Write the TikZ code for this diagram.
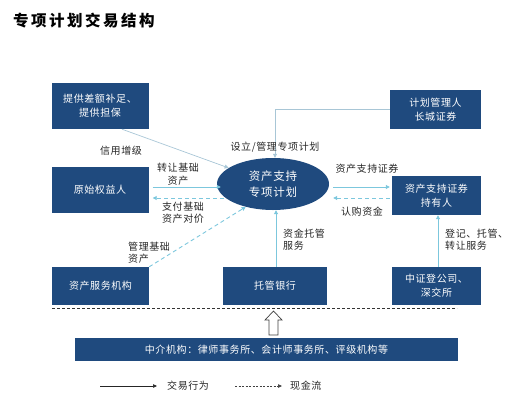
\documentclass[tikz,border=0pt]{standalone}
\usepackage{fontspec}
\setmainfont{Noto Sans CJK SC}[LetterSpace=6]
\newfontfamily\titlefont{Noto Sans CJK SC}[LetterSpace=16]
\usetikzlibrary{arrows.meta,calc,shapes.geometric}
\definecolor{boxblue}{HTML}{1F4A7E}
\definecolor{lnblue}{HTML}{7CC7DD}
\definecolor{lngray}{HTML}{A8C6D6}
\begin{document}
\begin{tikzpicture}[x=1pt,y=-1pt,
  box/.style={fill=boxblue,text=white,font=\fontsize{10}{14}\selectfont,align=center,inner sep=0pt},
  lbl/.style={font=\fontsize{10}{12.5}\selectfont,text=black!85,inner sep=0pt},
  trans/.style={draw=lnblue,line width=0.9pt,-{Triangle[length=4pt,width=4pt]}},
  cash/.style={draw=lnblue,line width=0.9pt,dash pattern=on 4pt off 3pt,-{Triangle[length=4pt,width=4pt]}},
  thinl/.style={draw=lngray,line width=0.7pt,-{Triangle[length=4pt,width=4pt]}},
]
\useasboundingbox (0,0) rectangle (519,400);
\node[anchor=west,font=\fontsize{15.5}{18}\titlefont\bfseries,inner sep=0pt] (title) at (13,21) {专项计划交易结构};

\node[box,minimum width=97pt,minimum height=46pt] (gua) at (100,106) {提供差额补足、\\提供担保};
\node[box,minimum width=97pt,minimum height=46pt] (ys) at (100,190) {原始权益人};
\node[box,minimum width=91pt,minimum height=39pt] (mgr) at (435.5,109.5) {计划管理人\\长城证券};
\node[box,minimum width=89pt,minimum height=39pt] (hold) at (436.5,195.5) {资产支持证券\\持有人};
\node[box,minimum width=97pt,minimum height=38pt] (serv) at (100.5,286) {资产服务机构};
\node[box,minimum width=104pt,minimum height=38pt] (bank) at (275,286) {托管银行};
\node[box,minimum width=89pt,minimum height=38pt] (csdc) at (436.5,286) {中证登公司、\\深交所};
\node[ellipse,fill=boxblue,text=white,minimum width=112pt,minimum height=52pt,inner sep=0pt,align=center,font=\fontsize{11.5}{16}\selectfont] (ell) at (273,184) {资产支持\\专项计划};
\node[box,minimum width=383pt,minimum height=23pt] (mid) at (266.5,349.5) {中介机构：律师事务所、会计师事务所、评级机构等};

% connectors
\draw[thinl] ($(gua.south)+(22,0)$) -- (ell);
\draw[trans] ($(ys.east)+(4,-3)$) -- ($(ell.west)+(4,3)$);
\draw[cash] ($(ell.west)+(7,14)$) -- ($(ys.east)+(4,8)$);
\draw[cash] (serv.north east) -- (ell.220);
\draw[thinl] (mgr.west) -| ($(ell.north)+(2,0)$);
\draw[trans] ($(ell.east)+(4,3)$) -- ($(hold.west)+(-2,-8.5)$);
\draw[cash] ($(hold.west)+(-2,2.5)$) -- ($(ell.east)+(4,14)$);
\draw[trans] ($(bank.north)+(1,0)$) -- ($(ell.south)+(3,0)$);
\draw[trans] ($(csdc.north)+(1.5,0)$) -- ($(hold.south)+(1.5,0)$);

% labels
\node[lbl] (l1) at (121,151) {信用增级};
\node[lbl,align=center] (l2) at (178,174) {转让基础\\资产};
\node[lbl,align=center] (l3) at (183,212.5) {支付基础\\资产对价};
\node[lbl,align=left,anchor=west] (l4) at (128,252.5) {管理基础\\资产};
\node[lbl] (l5) at (275,147) {设立/管理专项计划};
\node[lbl] (l6) at (367,169) {资产支持证券};
\node[lbl] (l7) at (362,212) {认购资金};
\node[lbl,align=left,anchor=west] (l8) at (283,239.5) {资金托管\\服务};
\node[lbl,align=left,anchor=west] (l9) at (445,239.5) {登记、托管、\\转让服务};

% separator
\coordinate (sepL) at (52,308);
\coordinate (sepR) at (457,308);
\draw[black!80,line width=0.6pt,dash pattern=on 3pt off 2pt] (sepL) -- (sepR);

% hollow arrow
\draw[black!75,fill=white,line width=0.7pt] (269,335) -- (269,320) -- (265,320) -- (273.5,311) -- (282,320) -- (278,320) -- (278,335) -- cycle;

% legend
\coordinate (la1) at (100,386);
\coordinate (la2) at (157,386);
\coordinate (lb1) at (235,386);
\coordinate (lb2) at (282,386);
\draw[black!85,line width=0.6pt,-{Triangle[length=4pt,width=3.5pt]}] (la1) -- (la2);
\draw[black!75,line width=0.6pt,dash pattern=on 2pt off 1.5pt,-{Triangle[length=4pt,width=3.5pt]}] (lb1) -- (lb2);
\node[lbl,anchor=west] (lg1) at (167,386) {交易行为};
\node[lbl,anchor=west] (lg2) at (290,386) {现金流};
\end{tikzpicture}
\end{document}
